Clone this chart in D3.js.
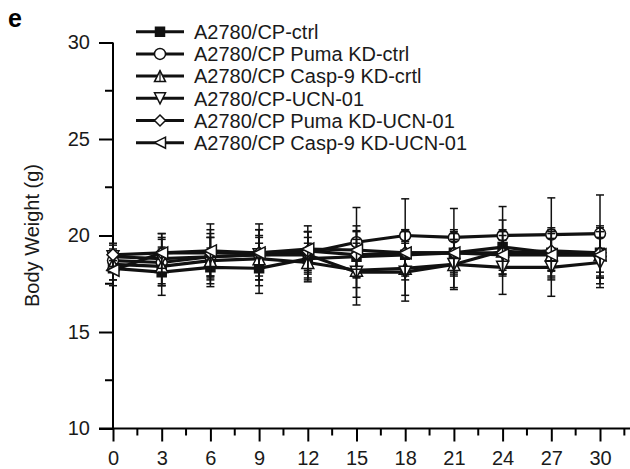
<!DOCTYPE html>
<html>
<head>
<meta charset="utf-8">
<script src="https://cdn.jsdelivr.net/npm/d3@7"></script>
<style>
  body { margin: 0; background: #fff; }
  svg { display: block; font-family: "Liberation Sans", Arial, sans-serif; }
</style>
</head>
<body>
<div id="chart"></div>
<script>
// days
var days = [0, 3, 6, 9, 12, 15, 18, 21, 24, 27, 30];

var seriesNames = ["A2780/CP-ctrl", "A2780/CP Puma KD-ctrl", "A2780/CP Casp-9 KD-crtl",
                   "A2780/CP-UCN-01", "A2780/CP Puma KD-UCN-01", "A2780/CP Casp-9 KD-UCN-01"];
var seriesSymbols = ["square", "circle", "triUp", "triDown", "diamond", "triLeft"];

// body weight means (g)
var ctrl      = [18.3, 18.1, 18.35, 18.3, 18.8, 18.9, 19.0, 19.1, 19.4, 19.1, 19.1];
var pumaCtrl  = [18.7, 18.6, 18.9, 19.0, 19.1, 19.65, 20.0, 19.9, 20.0, 20.05, 20.1];
var caspCtrl  = [18.5, 18.4, 18.7, 18.8, 18.6, 18.2, 18.3, 18.5, 19.2, 19.0, 19.0];
var ucn       = [18.9, 18.8, 18.9, 19.0, 19.0, 18.1, 18.1, 18.5, 18.35, 18.35, 18.6];
var pumaUcn   = [19.0, 19.1, 19.1, 19.1, 19.2, 19.0, 19.1, 19.1, 19.1, 19.2, 19.1];
var caspUcn   = [18.2, 19.1, 19.2, 19.1, 19.3, 19.25, 19.1, 19.1, 19.0, 19.0, 19.0];

// standard deviations
var ctrlErr     = [0.9, 1.2, 1.0, 1.3, 1.1, 1.6, 1.3, 1.2, 1.4, 1.3, 1.2];
var pumaCtrlErr = [0.5, 1.2, 1.0, 1.3, 1.1, 1.8, 1.9, 1.5, 1.5, 1.9, 2.0];
var caspCtrlErr = [0.8, 1.0, 1.2, 1.1, 1.0, 1.4, 1.4, 1.2, 1.0, 1.1, 1.2];
var ucnErr      = [0.6, 1.3, 1.2, 1.6, 1.2, 1.7, 1.5, 1.3, 1.4, 1.5, 1.3];
var pumaUcnErr  = [0.6, 1.0, 1.2, 1.2, 1.0, 1.2, 1.2, 1.0, 1.2, 1.0, 1.3];
var caspUcnErr  = [0.5, 0.8, 1.4, 0.9, 1.2, 1.0, 1.1, 1.1, 1.0, 1.3, 1.5];

var xTicks = [0, 3, 6, 9, 12, 15, 18, 21, 24, 27, 30];
var xMinor = [1.5, 4.5, 7.5, 10.5, 13.5, 16.5, 19.5, 22.5, 25.5, 28.5, 31.5];
var yTicks = [10, 15, 20, 25, 30];
var yMinor = [12.5, 17.5, 22.5, 27.5];

var allMeans = [ctrl, pumaCtrl, caspCtrl, ucn, pumaUcn, caspUcn];
var allErrs = [ctrlErr, pumaCtrlErr, caspCtrlErr, ucnErr, pumaUcnErr, caspUcnErr];

var series = seriesNames.map(function(name, i) {
    return {
        name: name,
        symbol: seriesSymbols[i],
        points: days.map(function(d, j) { return {x: d, y: allMeans[i][j], e: allErrs[i][j]}; })
    };
});

var width = 630, height = 469;

var svg = d3.select("#chart").append("svg")
    .attr("width", width)
    .attr("height", height);

var x = d3.scaleLinear().domain([0, 30]).range([113, 600]);
var y = d3.scaleLinear().domain([10, 30]).range([428.5, 42.5]);

// symbol path generator, size = approx width in px
function symbolPath(type, s) {
    var h = s / 2;
    switch (type) {
        case "square":  return "M" + (-h) + "," + (-h) + "H" + h + "V" + h + "H" + (-h) + "Z";
        case "circle":  return "M" + (-h) + ",0A" + h + "," + h + " 0 1,0 " + h + ",0A" + h + "," + h + " 0 1,0 " + (-h) + ",0Z";
        case "triUp":   return "M0," + (-h) + "L" + h + "," + h + "L" + (-h) + "," + h + "Z";
        case "triDown": return "M0," + h + "L" + h + "," + (-h) + "L" + (-h) + "," + (-h) + "Z";
        case "diamond": return "M0," + (-h) + "L" + h + ",0L0," + h + "L" + (-h) + ",0Z";
        case "triLeft": return "M" + (-h) + ",0L" + h + "," + (-h) + "L" + h + "," + h + "Z";
    }
}

// panel letter
svg.append("text")
    .attr("x", 8).attr("y", 27)
    .attr("font-size", 25).attr("font-weight", "bold")
    .text("e");

// axes
var xAxisG = svg.append("g").attr("transform", "translate(0," + y(10) + ")");
xAxisG.call(d3.axisBottom(x).tickValues(xTicks).tickSize(13).tickSizeOuter(0).tickPadding(4));
xAxisG.select(".domain").remove();
xAxisG.append("line")
    .attr("x1", 99).attr("x2", 630).attr("stroke", "#000").attr("stroke-width", 2);
xAxisG.selectAll(".minor").data(xMinor).enter().append("line")
    .attr("x1", function(d) { return x(d); }).attr("x2", function(d) { return x(d); })
    .attr("y1", 0).attr("y2", 7).attr("stroke", "#000").attr("stroke-width", 2);

var yAxisG = svg.append("g").attr("transform", "translate(" + x(0) + ",0)");
yAxisG.call(d3.axisLeft(y).tickValues(yTicks).tickSize(14).tickSizeOuter(0).tickPadding(9));
yAxisG.select(".domain").remove();
yAxisG.append("line")
    .attr("y1", y(30)).attr("y2", y(10)).attr("stroke", "#000").attr("stroke-width", 2);
yAxisG.selectAll(".minor").data(yMinor).enter().append("line")
    .attr("y1", function(d) { return y(d); }).attr("y2", function(d) { return y(d); })
    .attr("x1", 0).attr("x2", -8).attr("stroke", "#000").attr("stroke-width", 2);

svg.selectAll(".tick line").attr("stroke", "#000").attr("stroke-width", 2);
svg.selectAll(".tick text").attr("font-size", 20).attr("fill", "#1a1a1a")
    .attr("font-family", "'Liberation Sans', Arial, sans-serif");
xAxisG.selectAll(".tick text").attr("dy", "0.95em");

// y title
svg.append("text")
    .attr("transform", "translate(39," + y(20) + ") rotate(-90)")
    .attr("text-anchor", "middle")
    .attr("font-size", 20)
    .attr("fill", "#1a1a1a")
    .text("Body Weight (g)");

// data
var line = d3.line()
    .x(function(d) { return x(d.x); })
    .y(function(d) { return y(d.y); })
    .curve(d3.curveLinear);

var plot = svg.append("g");

series.forEach(function(s) {
    var g = plot.append("g");

    var eb = g.selectAll(".eb").data(s.points).enter().append("g");
    eb.append("line")
        .attr("x1", function(d) { return x(d.x); }).attr("x2", function(d) { return x(d.x); })
        .attr("y1", function(d) { return y(d.y - d.e); }).attr("y2", function(d) { return y(d.y + d.e); })
        .attr("stroke", "#111").attr("stroke-width", 1.5);
    [1, -1].forEach(function(sign) {
        eb.append("line")
            .attr("x1", function(d) { return x(d.x) - 4; }).attr("x2", function(d) { return x(d.x) + 4; })
            .attr("y1", function(d) { return y(d.y + sign * d.e); })
            .attr("y2", function(d) { return y(d.y + sign * d.e); })
            .attr("stroke", "#111").attr("stroke-width", 1.5);
    });

    g.append("path")
        .attr("d", line(s.points))
        .attr("fill", "none")
        .attr("stroke", "#111")
        .attr("stroke-width", 3.2);

    g.selectAll(".m").data(s.points).enter().append("path")
        .attr("transform", function(d) { return "translate(" + x(d.x) + "," + y(d.y) + ")"; })
        .attr("d", symbolPath(s.symbol, s.symbol === "square" ? 9 : (s.symbol === "circle" ? 11 : 12)))
        .attr("fill", s.symbol === "square" ? "#111" : "#fff")
        .attr("stroke", "#111")
        .attr("stroke-width", 1.5);
});

// legend
var legendY = [31.7, 53.9, 76.1, 98.3, 120.5, 142.7];
var legend = svg.append("g");
series.forEach(function(s, i) {
    var g = legend.append("g").attr("transform", "translate(0," + legendY[i] + ")");
    g.append("line").attr("x1", 136).attr("x2", 184).attr("y1", 0).attr("y2", 0)
        .attr("stroke", "#111").attr("stroke-width", 3);
    g.append("path")
        .attr("transform", "translate(160,0)")
        .attr("d", symbolPath(s.symbol, s.symbol === "square" ? 9 : 11))
        .attr("fill", s.symbol === "square" ? "#111" : "#fff")
        .attr("stroke", "#111").attr("stroke-width", 1.5);
    if (s.symbol === "triUp") {
        g.append("line").attr("x1", 160).attr("x2", 160).attr("y1", -5.5).attr("y2", 5.5)
            .attr("stroke", "#111").attr("stroke-width", 1.2);
    }
    g.append("text")
        .attr("x", 194).attr("y", 0).attr("dy", "0.36em")
        .attr("font-size", 20).attr("fill", "#1a1a1a")
        .text(s.name);
});
</script>
</body>
</html>
